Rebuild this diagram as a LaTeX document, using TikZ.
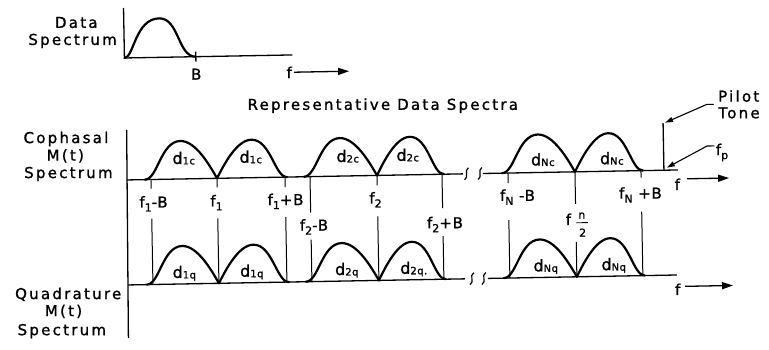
\documentclass[tikz,border=0pt]{standalone}
\usepackage{fontspec}
\setmainfont{DejaVu Sans}[LetterSpace=15,FakeBold=1.2]
\newfontfamily\labfont{DejaVu Sans}[LetterSpace=5,FakeBold=1.2]
\usetikzlibrary{arrows.meta}
\newcommand\lo[1]{\raisebox{-4pt}{\fontsize{11}{11}\selectfont #1}}
\newcommand\dl[1]{{\fontsize{16}{16}\selectfont d}\raisebox{-0.5pt}{\fontsize{10}{10}\selectfont #1}}
\def\humph{38}
\newcommand\humpA[3]{%
  \pgfmathsetmacro\hmA{(#1+#2)/2}%
  \pgfmathsetmacro\hwA{(#2-#1)/2}%
  \draw[humpln] (#1,#3) .. controls ({#1+0.35*\hwA},#3) and ({#1+0.45*\hwA},{#3-\humph}) .. (\hmA,{#3-\humph})
     .. controls ({\hmA+0.42*\hwA},{#3-\humph}) and ({#2-0.2*\hwA},{#3-0.35*\humph}) .. (#2,#3);}
\newcommand\humpB[3]{%
  \pgfmathsetmacro\hmB{(#1+#2)/2}%
  \pgfmathsetmacro\hwB{(#2-#1)/2}%
  \draw[humpln] (#1,#3) .. controls ({#1+0.2*\hwB},{#3-0.35*\humph}) and ({\hmB-0.42*\hwB},{#3-\humph}) .. (\hmB,{#3-\humph})
     .. controls ({#2-0.45*\hwB},{#3-\humph}) and ({#2-0.35*\hwB},#3) .. (#2,#3);}
\newcommand\squig[2]{\draw[line width=1.2pt] ({#1+2},{#2-6}) .. controls ({#1-3},{#2-3}) and ({#1+3},{#2+3}) .. ({#1-2},{#2+6});}
\newcommand\vconn[5]{% x, top1, bot1, top2, bot2
  \draw[conn] (#1,#2) -- (#1,#3); \draw[conn] (#1,#4) -- (#1,#5);}
\tikzset{
  humpln/.style={line width=2.2pt, line cap=round},
  axis/.style={line width=1.3pt},
  conn/.style={line width=1pt},
  arr/.style={line width=1.3pt, -{Triangle[length=11pt,width=7pt]}},
  lead/.style={line width=1.1pt, -{Triangle[length=8pt,width=5pt]}},
  txt/.style={inner sep=0pt, anchor=base, font=\fontsize{15}{17}\selectfont},
  lab/.style={inner sep=0pt, anchor=base, font=\labfont\fontsize{15}{17}\selectfont},
  fraclab/.style={inner sep=0pt, anchor=base, font=\labfont\fontsize{11}{11}\selectfont},
}
\begin{document}
\begin{tikzpicture}[x=1pt,y=-1pt]
\useasboundingbox (0,0) rectangle (769,349);
\begin{scope}[rotate around={1.04:(400,175)}]
% ---- top data spectrum ----
\draw[axis] (126.6,3) -- (126.6,53) -- (294.5,53);
\draw[axis] (198,48) -- (198,58);
\draw[humpln] (126.6,53) .. controls (136,53) and (138,14) .. (162,14) .. controls (182,14) and (180,53) .. (198,53);
\node[txt] (data) at (79,22) {Data};
\node[txt] (dspec) at (75,39) {Spectrum};
\node[lab] (Blab) at (198,76) {B};
\node[lab] (ftop) at (291,76) {f};
\coordinate (ftA) at (296,70.3);
\coordinate (ftB) at (351,70.3);
\draw[arr] (ftA) -- (ftB);
\node[txt] (rep) at (384,109.5) {Representative Data Spectra};
% ---- left labels ----
\node[txt] (coph1) at (66.6,137) {Cophasal};
\node[txt] (coph2) at (65.6,154.5) {M(t)};
\node[txt] (coph3) at (68.4,172) {Spectrum};
\node[txt] (quad1) at (66,293) {Quadrature};
\node[txt] (quad2) at (61,310) {M(t)};
\node[txt] (quad3) at (59,329) {Spectrum};
\draw[axis] (127.5,125) -- (125.5,333);
% ---- baselines ----
\draw[axis] (126.8,175) -- (463,175);
\squig{466.5}{175}
\squig{480}{175}
\draw[axis] (483,175) -- (678,175);
\draw[axis] (126,280) -- (463,280);
\squig{470}{280}
\squig{482}{280}
\draw[axis] (486,280) -- (675,280);
% ---- humps ----
\humpA{145}{217}{175}
\humpB{217}{287}{175}
\humpA{304}{377}{175}
\humpB{377}{444}{175}
\humpA{502}{575}{175}
\humpB{575}{643}{175}
\humpA{145}{217}{280}
\humpB{217}{287}{280}
\humpA{304}{377}{280}
\humpB{377}{444}{280}
\humpA{502}{575}{280}
\humpB{575}{643}{280}
% hump labels
\node[lab] (d1) at (184,160) {\dl{1c}};
\node[lab] (d2) at (251,160) {\dl{1c}};
\node[lab] (d3) at (348,161) {\dl{2c}};
\node[lab] (d4) at (408,161) {\dl{2c}};
\node[lab] (d5) at (543,168) {\dl{Nc}};
\node[lab] (d6) at (612,168) {\dl{Nc}};
\node[lab] (q1) at (182.5,274) {\dl{1q}};
\node[lab] (q2) at (250,274) {\dl{1q}};
\node[lab] (q3) at (345,274) {\dl{2q}};
\node[lab] (q4) at (412,274) {\dl{2q.}};
\node[lab] (q5) at (544,274) {\dl{Nq}};
\node[lab] (q6) at (612,274) {\dl{Nq}};
% ---- frequency markers ----
\vconn{151}{175}{184}{214}{280}
\vconn{217}{175}{184}{215}{280}
\vconn{285}{175}{185}{215}{280}
\vconn{310}{175}{211}{238}{280}
\vconn{377}{175}{185}{216}{280}
\vconn{442}{175}{209}{237}{280}
\vconn{508}{175}{185}{222}{280}
\vconn{575}{175}{207}{245}{280}
\vconn{641}{175}{182}{216}{280}
\node[lab] (f1mB) at (153,203) {f\lo{1}-B};
\node[lab] (f1) at (216,203) {f\lo{1}};
\node[lab] (f1pB) at (285,203) {f\lo{1}+B};
\node[lab] (f2mB) at (313,229) {f\lo{2}-B};
\node[lab] (f2) at (375,203) {f\lo{2}};
\node[lab] (f2pB) at (444,229) {f\lo{2}+B};
\node[lab] (fNmB) at (517,203) {f\lo{N} -B};
\node[lab] (fhalf) at (567.5,228) {f};
\node[fraclab] (fnum) at (581,222) {n};
\coordinate (fbarA) at (575.5,226);
\coordinate (fbarB) at (587,226);
\draw[line width=0.9pt] (fbarA) -- (fbarB);
\node[fraclab] (fden) at (581.5,240) {2};
\node[lab] (fNpB) at (640,203) {f\lo{N} +B};
% ---- right side ----
\node[lab] (fc) at (677,195) {f};
\coordinate (fcA) at (687,184);
\coordinate (fcB) at (729,184);
\draw[arr] (fcA) -- (fcB);
\node[lab] (fq) at (675.5,300) {f};
\coordinate (fqA) at (683,291.5);
\coordinate (fqB) at (731,291.5);
\draw[arr] (fqA) -- (fqB);
% pilot tone
\coordinate (ptTop) at (664,128);
\coordinate (ptFoot) at (664,175);
\draw[axis] (ptTop) -- (ptFoot);
\node[txt] (pilot) at (740,107.8) {Pilot};
\node[txt] (tone) at (740,124.4) {Tone};
\coordinate (plA) at (715,110);
\coordinate (plB) at (708,110);
\coordinate (ptTip) at (666,127.5);
\draw[lead] (plA) -- (plB) -- (ptTip);
\node[lab, anchor=base west] (fp) at (716,160.8) {f\lo{p}};
\coordinate (fpA) at (715,151.6);
\coordinate (fpB) at (707.5,151.6);
\coordinate (fpTip) at (667,172.5);
\draw[lead] (fpA) -- (fpB) -- (fpTip);
\end{scope}
\end{tikzpicture}
\end{document}
